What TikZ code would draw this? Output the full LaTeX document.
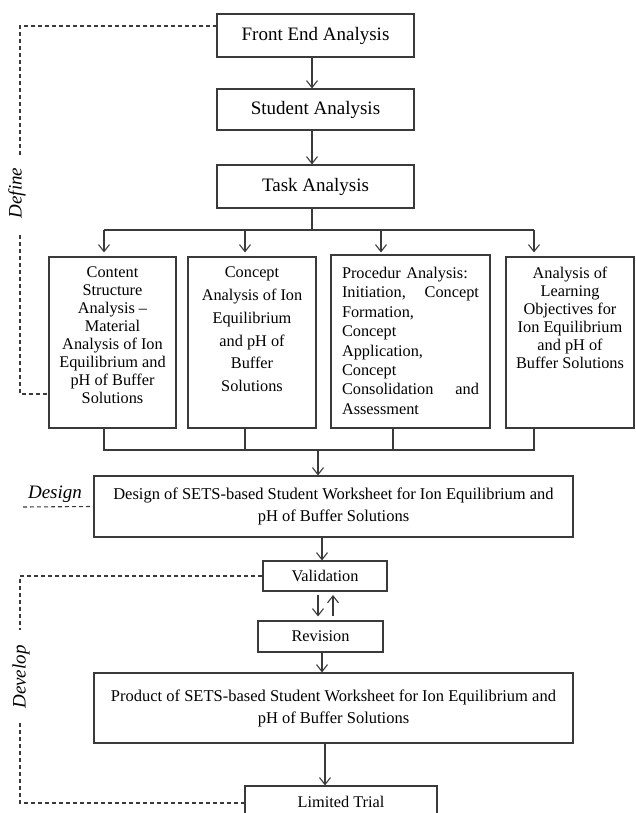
\documentclass[tikz,border=0pt]{standalone}
\usepackage{fontspec}
\setmainfont{Liberation Serif}
\usetikzlibrary{arrows.meta}
\definecolor{ln}{HTML}{3A3A3A}
\tikzset{
  box/.style={draw=ln, line width=1.1pt, rectangle, inner sep=0pt},
  bigt/.style={font=\fontsize{19}{22}\selectfont},
  smt/.style={font=\fontsize{16.3}{18}\selectfont},
  arr/.style={draw=ln, line width=1.1pt, -{Straight Barb[length=7pt,width=11pt,line width=1.1pt]}},
  ln/.style={draw=ln, line width=1.1pt},
  dsh/.style={draw=ln, line width=1.1pt, dash pattern=on 4pt off 3pt},
  lab/.style={font=\fontsize{19}{22}\selectfont\itshape},
}
\begin{document}
\begin{tikzpicture}[x=1pt,y=-1pt]
\useasboundingbox (0,0) rectangle (635,813);
\clip (0,0) rectangle (635,813);
% top column
\node[box,bigt,minimum width=197pt,minimum height=43pt] (fea) at (315.5,35.5) {Front End Analysis};
\node[box,bigt,minimum width=197pt,minimum height=41pt] (sa) at (315.5,109.5) {Student Analysis};
\node[box,bigt,minimum width=197pt,minimum height=43pt] (ta) at (315.5,186.5) {Task Analysis};
\coordinate (cx) at (312,0);
\draw[arr] (cx |- fea.south) -- (cx |- sa.north);
\draw[arr] (cx |- sa.south) -- (cx |- ta.north);
% four boxes
\node[box,minimum width=127pt,minimum height=171pt] (b1) at (112.5,342.5) {};
\node[box,minimum width=128pt,minimum height=171pt] (b2) at (252,342.5) {};
\node[box,minimum width=159pt,minimum height=173pt] (b3) at (410.5,341.5) {};
\node[box,minimum width=128pt,minimum height=171pt] (b4) at (570,342.5) {};
\node[smt,anchor=north,align=center,inner sep=0pt] (t1) at (112.5,267)
  {Content\\Structure\\Analysis --\\Material\\Analysis of Ion\\Equilibrium and\\pH of Buffer\\Solutions};
\node[font=\fontsize{16.3}{22.7}\selectfont,anchor=north,align=center,inner sep=0pt] (t2) at (252,267)
  {Concept\\Analysis of Ion\\Equilibrium\\and pH of\\Buffer\\Solutions};
\node[font=\fontsize{16.3}{19.4}\selectfont,anchor=north,align=left,text width=137pt,inner sep=0pt] (t3) at (410.5,267)
  {Procedur Analysis:\\Initiation,\hfill Concept\\Formation,\\Concept\\Application,\\Concept\\Consolidation\hfill and\\Assessment};
\node[smt,anchor=north,align=center,inner sep=0pt] (t4) at (570,267)
  {Analysis of\\Learning\\Objectives for\\Ion Equilibrium\\and pH of\\Buffer Solutions};
% split
\coordinate (sp) at (312,230);
\coordinate (s1) at (104,230);
\coordinate (s2) at (245,230);
\coordinate (s3) at (381,230);
\coordinate (s4) at (534,230);
\draw[ln] (sp |- ta.south) -- (sp);
\draw[ln] (s1) -- (s4);
\draw[arr,shorten >=4pt] (s1) -- (s1 |- b1.north);
\draw[arr,shorten >=4pt] (s2) -- (s2 |- b2.north);
\draw[arr,shorten >=2pt] (s3) -- (s3 |- b3.north);
\draw[arr,shorten >=4pt] (s4) -- (s4 |- b4.north);
% merge
\coordinate (m1) at (104,450);
\coordinate (m2) at (245,450);
\coordinate (m3) at (393,450);
\coordinate (m4) at (534,450);
\coordinate (mc) at (318,450);
\draw[ln] (m1 |- b1.south) -- (m1) -- (m4) -- (m4 |- b4.south);
\draw[ln] (m2 |- b2.south) -- (m2);
\draw[ln] (m3 |- b3.south) -- (m3);
% design
\node[box,minimum width=479pt,minimum height=61pt,align=center,font=\fontsize{16.5}{22}\selectfont] (des) at (333.5,506.5)
  {Design of SETS-based Student Worksheet for Ion Equilibrium and\\pH of Buffer Solutions};
\draw[arr] (mc) -- (mc |- des.north);
% develop
\node[box,smt,minimum width=124pt,minimum height=30pt] (val) at (325,576) {Validation};
\node[box,smt,minimum width=125pt,minimum height=31pt] (rev) at (320.5,636.5) {Revision};
\node[box,minimum width=479pt,minimum height=70pt,align=center,font=\fontsize{16.5}{22}\selectfont] (prod) at (333.5,708)
  {Product of SETS-based Student Worksheet for Ion Equilibrium and\\pH of Buffer Solutions};
\node[box,minimum width=192pt,minimum height=38pt] (lt) at (341,805) {};
\node[smt,inner sep=0pt] (ltt) at (341,802) {Limited Trial};
\coordinate (a1) at (322,537);
\draw[arr] (a1) -- (a1 |- val.north);
\coordinate (v1) at (318,591);
\coordinate (v2) at (333,591);
\draw[arr,shorten <=4pt,shorten >=4pt] (v1) -- (v1 |- rev.north);
\draw[arr,shorten <=4pt,shorten >=4pt] (v2 |- rev.north) -- (v2);
\coordinate (a2) at (322,652);
\draw[arr] (a2) -- (a2 |- prod.north);
\coordinate (a3) at (325,743);
\draw[arr] (a3) -- (a3 |- lt.north);
% phase labels
\node[lab,rotate=90] (ldef) at (17,193) {Define};
\node[lab] (ldes) at (55,494) {Design};
\node[lab,rotate=90] (ldev) at (21,677) {Develop};
\coordinate (d0) at (217,26);
\coordinate (d1) at (20,26);
\draw[dsh] (d0) -- (d1) -- (20,157);
\draw[dsh] (20,235) -- (20,394) -- (b1.west |- 0,394);
\draw[dsh] (23,507) -- (des.west);
\draw[dsh] (val.west) -- (20,576) -- (20,630);
\draw[dsh] (20,723) -- (20,803) -- (lt.west |- 0,803);
\end{tikzpicture}
\end{document}
